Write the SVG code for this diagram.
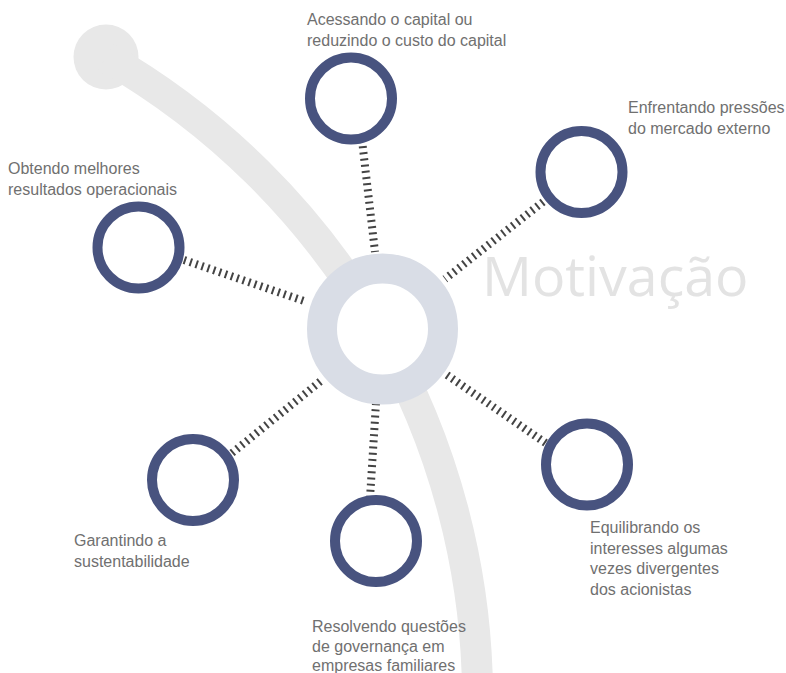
<svg xmlns="http://www.w3.org/2000/svg" width="786" height="673" viewBox="0 0 786 673">
<style>
.lbl{font-family:"Liberation Sans",Arial,sans-serif;font-size:16px;fill:#707070}
.node{fill:none;stroke:#48537f;stroke-width:10}
.conn{stroke:#444;stroke-width:8;stroke-dasharray:2 4.2;fill:none}
.title{font-family:"Open Sans","Noto Sans",sans-serif;font-size:55.5px;fill:#e3e3e3}
</style>
<rect width="786" height="673" fill="#fff"/>
<g id="arc">
<circle cx="106" cy="57" r="32.5" fill="#e8e8e8"/>
<path d="M106 57 A741 741 0 0 1 477.6 699" fill="none" stroke="#e8e8e8" stroke-width="31"/>
</g>
<text class="title" x="482" y="296">Motivação</text>
<g id="connectors">
<line class="conn" x1="362" y1="140" x2="375" y2="252"/>
<line class="conn" x1="548" y1="198" x2="445" y2="279"/>
<line class="conn" x1="184" y1="260" x2="307" y2="302"/>
<line class="conn" x1="232" y1="453" x2="322" y2="380"/>
<line class="conn" x1="370" y1="498" x2="376" y2="403"/>
<line class="conn" x1="447" y1="375" x2="547" y2="444"/>
</g>
<g id="center">
<circle cx="382.5" cy="329" r="60.5" fill="#fff" stroke="#d9dde6" stroke-width="30"/>
</g>
<g id="n-top">
<circle class="node" cx="351" cy="98.5" r="41"/>
<text class="lbl" x="307" y="25">Acessando o capital ou</text>
<text class="lbl" x="307" y="46">reduzindo o custo do capital</text>
</g>
<g id="n-topright">
<circle class="node" cx="581.5" cy="172" r="41"/>
<text class="lbl" x="628" y="113">Enfrentando pressões</text>
<text class="lbl" x="628" y="134">do mercado externo</text>
</g>
<g id="n-left">
<circle class="node" cx="138.5" cy="247.5" r="41"/>
<text class="lbl" x="8" y="174">Obtendo melhores</text>
<text class="lbl" x="8" y="195">resultados operacionais</text>
</g>
<g id="n-bottomleft">
<circle class="node" cx="193" cy="480" r="41"/>
<text class="lbl" x="74" y="546">Garantindo a</text>
<text class="lbl" x="74" y="567">sustentabilidade</text>
</g>
<g id="n-bottom">
<circle class="node" cx="376" cy="541" r="41"/>
<text class="lbl" x="312" y="632">Resolvendo questões</text>
<text class="lbl" x="312" y="652">de governança em</text>
<text class="lbl" x="312" y="671">empresas familiares</text>
</g>
<g id="n-bottomright">
<circle class="node" cx="587" cy="464.5" r="41"/>
<text class="lbl" x="590" y="533">Equilibrando os</text>
<text class="lbl" x="590" y="554">interesses algumas</text>
<text class="lbl" x="590" y="574">vezes divergentes</text>
<text class="lbl" x="590" y="595">dos acionistas</text>
</g>
</svg>
